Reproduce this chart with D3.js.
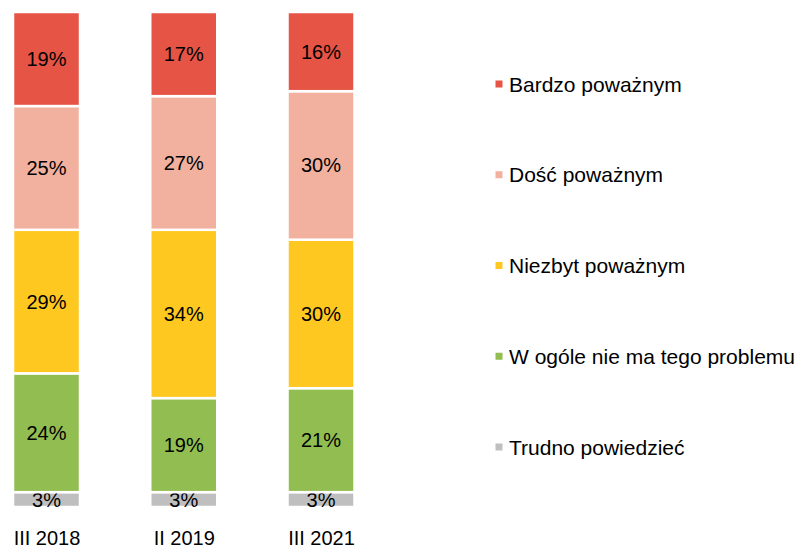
<!DOCTYPE html>
<html><head><meta charset="utf-8">
<script src="https://cdn.jsdelivr.net/npm/d3@7"></script>
<style>body{margin:0;background:#fff}svg{display:block}text{font-family:"Liberation Sans",Arial,sans-serif;fill:#000}</style>
</head><body>
<svg id="c" width="800" height="549"></svg>
<script>
const categories = ["III 2018", "II 2019", "III 2021"];
const seriesNames = ["Trudno powiedzieć", "W ogóle nie ma tego problemu", "Niezbyt poważnym", "Dość poważnym", "Bardzo poważnym"];
const trudno = [3, 3, 3];
const wOgole = [24, 19, 21];
const niezbyt = [29, 34, 30];
const dosc = [25, 27, 30];
const bardzo = [19, 17, 16];
const colors = ["#BFBFBF", "#92BD50", "#FFC820", "#F1B19E", "#E55445"];
const legendOrder = ["Bardzo poważnym", "Dość poważnym", "Niezbyt poważnym", "W ogóle nie ma tego problemu", "Trudno powiedzieć"];

const seriesValues = [trudno, wOgole, niezbyt, dosc, bardzo];
const rows = categories.map((c, i) => {
  const r = {cat: c};
  seriesNames.forEach((s, j) => r[s] = seriesValues[j][i]);
  return r;
});
const stack = d3.stack().keys(seriesNames)(rows);

const svg = d3.select("#c");
const x = d3.scalePoint().domain(categories).range([46.5, 321]);
const y = d3.scaleLinear().domain([0, 100]).range([507, 12]);
const color = d3.scaleOrdinal().domain(seriesNames).range(colors);

const bw = 67;
const g = svg.append("g");
stack.forEach(layer => {
  layer.forEach((d, i) => {
    const cx = x(categories[i]);
    g.append("rect")
      .attr("x", cx - bw / 2)
      .attr("y", y(d[1]))
      .attr("width", bw)
      .attr("height", y(d[0]) - y(d[1]))
      .attr("fill", color(layer.key))
      .attr("stroke", "#fff")
      .attr("stroke-width", 2.5);
    g.append("text")
      .attr("x", cx)
      .attr("y", (y(d[0]) + y(d[1])) / 2 + 7)
      .attr("text-anchor", "middle")
      .style("font-size", "20px")
      .text((d[1] - d[0]) + "%");
  });
});

const xAxis = d3.axisBottom(x).tickSize(0).tickPadding(0);
const ax = svg.append("g").attr("transform", "translate(0,530)").call(xAxis);
ax.select(".domain").remove();
ax.selectAll("text").style("font-size", "20px").attr("dy", "0.75em").attr("y", 0)
  .style("font-family", "'Liberation Sans',Arial,sans-serif").attr("fill", "#000");

const ly = d3.scalePoint().domain(legendOrder).range([84, 447]);
const leg = svg.append("g");
legendOrder.forEach(name => {
  leg.append("rect").attr("x", 495.5).attr("y", ly(name) - 3.5).attr("width", 7).attr("height", 7).attr("fill", color(name));
  leg.append("text").attr("x", 509).attr("y", ly(name) + 7.5).style("font-size", "21px").text(name);
});
</script>
</body></html>
